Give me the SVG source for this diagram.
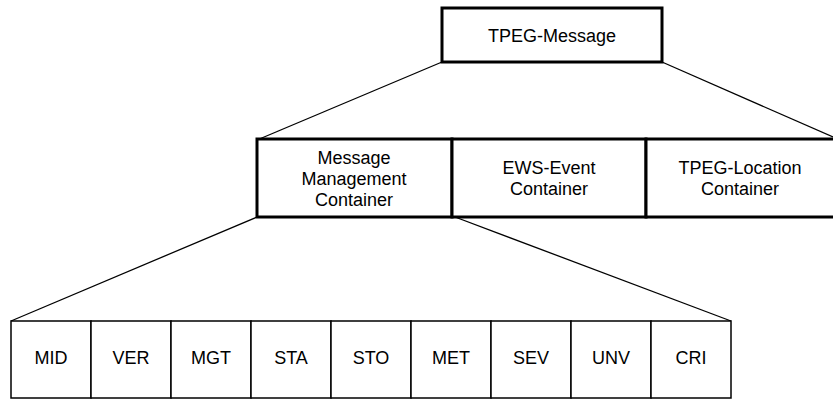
<svg xmlns="http://www.w3.org/2000/svg" width="833" height="401" viewBox="0 0 833 401">
<style>
.thick{fill:#fff;stroke:#000;stroke-width:3}
.thin{fill:#fff;stroke:#000;stroke-width:1.5}
.conn{fill:none;stroke:#000;stroke-width:1.3}
text{font-family:"Liberation Sans",Arial,sans-serif;font-size:18px;fill:#000;text-anchor:middle}
</style>
<rect width="833" height="401" fill="#fff"/>
<g id="connectors">
<line class="conn" x1="442" y1="62" x2="257" y2="140"/>
<line class="conn" x1="662" y1="62" x2="833" y2="137"/>
<line class="conn" x1="257" y1="217" x2="11" y2="321"/>
<line class="conn" x1="455" y1="217" x2="731" y2="321"/>
</g>
<g id="tpeg-message"><rect class="thick" x="442" y="8" width="220" height="54"/><text x="552" y="42">TPEG-Message</text></g>
<g id="mmc"><rect class="thick" x="257" y="139" width="195" height="78"/><text x="354" y="164">Message</text><text x="354" y="185">Management</text><text x="354" y="206">Container</text></g>
<g id="ews"><rect class="thick" x="452" y="139" width="194" height="78"/><text x="549" y="174">EWS-Event</text><text x="549" y="195">Container</text></g>
<g id="loc"><rect class="thick" x="646" y="139" width="190" height="78"/><text x="740" y="174">TPEG-Location</text><text x="740" y="195">Container</text></g>
<g id="mid"><rect class="thin" x="11" y="321" width="80" height="77"/><text x="51" y="364">MID</text></g>
<g id="ver"><rect class="thin" x="91" y="321" width="80" height="77"/><text x="131" y="364">VER</text></g>
<g id="mgt"><rect class="thin" x="171" y="321" width="80" height="77"/><text x="211" y="364">MGT</text></g>
<g id="sta"><rect class="thin" x="251" y="321" width="80" height="77"/><text x="291" y="364">STA</text></g>
<g id="sto"><rect class="thin" x="331" y="321" width="80" height="77"/><text x="371" y="364">STO</text></g>
<g id="met"><rect class="thin" x="411" y="321" width="80" height="77"/><text x="451" y="364">MET</text></g>
<g id="sev"><rect class="thin" x="491" y="321" width="80" height="77"/><text x="531" y="364">SEV</text></g>
<g id="unv"><rect class="thin" x="571" y="321" width="80" height="77"/><text x="611" y="364">UNV</text></g>
<g id="cri"><rect class="thin" x="651" y="321" width="80" height="77"/><text x="691" y="364">CRI</text></g>
</svg>
